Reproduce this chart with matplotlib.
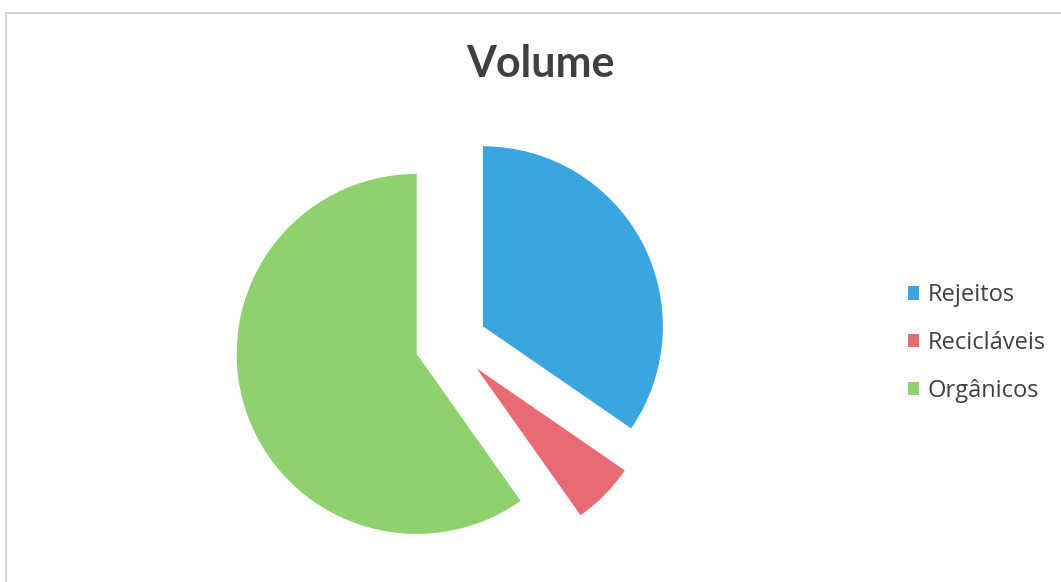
import matplotlib.pyplot as plt
from matplotlib.patches import Rectangle

labels = ['Rejeitos', 'Recicláveis', 'Orgânicos']
values = [34.6, 5.6, 59.8]
colors = ['#3aa6e0', '#e86a75', '#8fd06f']
explode = [0.2, 0.2, 0.2]

plt.rcParams['font.family'] = ['Lato', 'DejaVu Sans']

W, H = 1061, 582
fig = plt.figure(figsize=(W / 100, H / 100), dpi=100)

# light frame around the chart area
fig.patches.append(Rectangle((6 / W, -0.05), 1.2, 1 - 13 / H + 0.05,
                             transform=fig.transFigure, fill=False,
                             edgecolor='#d4d4d4', linewidth=1.5))

# pie axes: one data unit = 180 px, centre at (451, 343)
r_px = 180
cx, cy = 451, H - 343
half = 1.3 * r_px
ax = fig.add_axes([(cx - half) / W, (cy - half) / H, 2 * half / W, 2 * half / H])
wedges, _ = ax.pie(values, colors=colors, explode=explode, startangle=90,
                   counterclock=False, radius=1,
                   wedgeprops=dict(linewidth=0))
ax.set_xlim(-1.3, 1.3)
ax.set_ylim(-1.3, 1.3)
ax.set_aspect('equal')
ax.axis('off')

fig.text(540 / W, 1 - 64 / H, 'Volume', ha='center', va='center',
         fontsize=31, fontweight='bold', color='#404040')

fig.legend(wedges, labels, loc='center left',
           bbox_to_anchor=(908 / W, 1 - 343 / H), frameon=False,
           prop=dict(family=['Open Sans', 'DejaVu Sans'], size=17),
           handlelength=0.48, handleheight=0.48,
           handletextpad=0.35, labelspacing=1.0, borderpad=0,
           borderaxespad=0, labelcolor='#404040')

fig.savefig('out.png', dpi=100)
